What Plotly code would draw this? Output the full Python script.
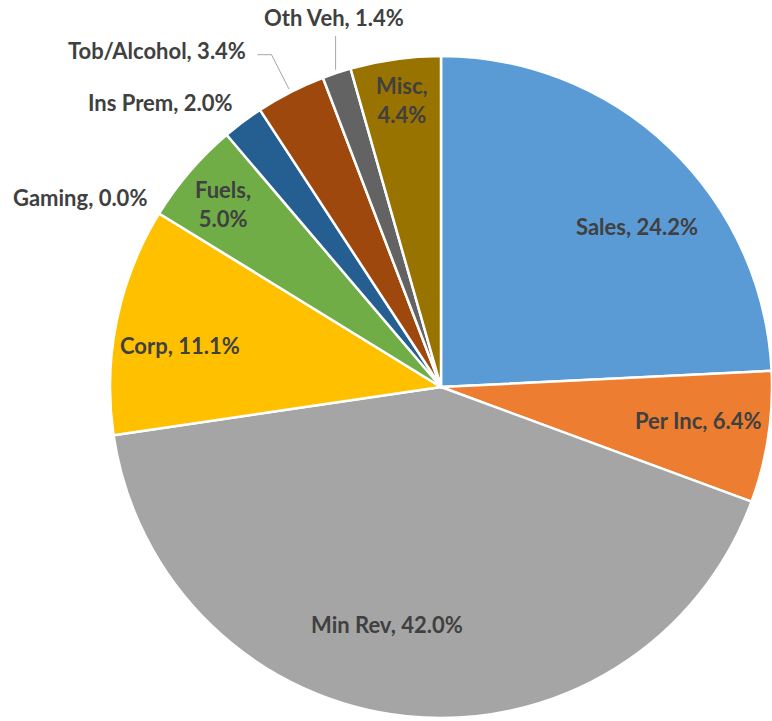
import math
import plotly.graph_objects as go

# ---- data ----
categories = ["Sales", "Per Inc", "Min Rev", "Corp", "Gaming", "Fuels",
              "Ins Prem", "Tob/Alcohol", "Oth Veh", "Misc"]
values = [24.2, 6.4, 42.0, 11.1, 0.0, 5.0, 2.0, 3.4, 1.4, 4.4]
colors = ["#5B9BD5", "#ED7D31", "#A5A5A5", "#FFC000", "#4472C4", "#70AD47",
          "#255E91", "#9E480E", "#636363", "#997300"]

# ---- label styling (radius factor, angle tweak in deg, anchor, line break) ----
lab_f = [0.766, 0.783, 0.737, 0.799, 1.052, 0.86, 1.062, 1.173, 1.161, 0.875]
lab_dt = [7.0, -1.4, 6.8, -2.5, 1.4, -0.6, 0.9, -2.8, 2.2, 0.2]
lab_anchor = ["center", "center", "center", "center", "right", "center",
              "right", "right", "center", "center"]
lab_break = [False, False, False, False, False, True, False, False, False, True]

W, H = 772, 721
CX, CY, R = 441, 387, 331

fig = go.Figure(go.Pie(
    labels=categories, values=values, sort=False, direction="clockwise",
    rotation=0, textinfo="none", hoverinfo="label+percent",
    marker=dict(colors=colors, line=dict(color="white", width=2.5)),
    domain=dict(x=[(CX - R) / W, (CX + R) / W],
                y=[(H - CY - R) / H, (H - CY + R) / H]),
    showlegend=False,
))

total = sum(values)


def pt(theta_deg, f):
    t = math.radians(theta_deg)
    px = CX + f * R * math.sin(t)
    py = CY - f * R * math.cos(t)
    return px / W, 1 - py / H, px, py


cum = 0.0
mids = []
for i, (c, v) in enumerate(zip(categories, values)):
    mid = (cum + v / 2) / total * 360
    mids.append(mid)
    cum += v
    sep = "<br>" if lab_break[i] else " "
    text = f"{c},{sep}{v:.1f}%"
    x, y, _, _ = pt(mid + lab_dt[i], lab_f[i])
    fig.add_annotation(x=x, y=y, xref="paper", yref="paper", text=text,
                       showarrow=False, xanchor=lab_anchor[i], yanchor="middle",
                       align="center",
                       font=dict(family="Lato, Carlito, sans-serif", size=22,
                                 color="#404040", weight="bold"))

# leader lines
line_style = dict(color="#A6A6A6", width=1)
ti = categories.index("Tob/Alcohol")
x0, y0, _, _ = pt(mids[ti], 1.01)
x1, y1, px1, py1 = pt(mids[ti], 1.127)
fig.add_shape(type="line", xref="paper", yref="paper", x0=x0, y0=y0, x1=x1, y1=y1, line=line_style)
fig.add_shape(type="line", xref="paper", yref="paper", x0=x1, y0=y1, x1=x1 - 14 / W, y1=y1, line=line_style)

oi = categories.index("Oth Veh")
x0, y0, _, _ = pt(mids[oi], 1.01)
x1, y1, _, _ = pt(mids[oi], 1.118)
fig.add_shape(type="line", xref="paper", yref="paper", x0=x0, y0=y0, x1=x0, y1=y1, line=line_style)

fig.update_layout(width=W, height=H, margin=dict(l=0, r=0, t=0, b=0),
                  paper_bgcolor="white", plot_bgcolor="white")

fig.write_html("out.html", config={"displayModeBar": False},
               post_script="document.body.style.margin='0px';document.body.style.overflow='hidden';")
